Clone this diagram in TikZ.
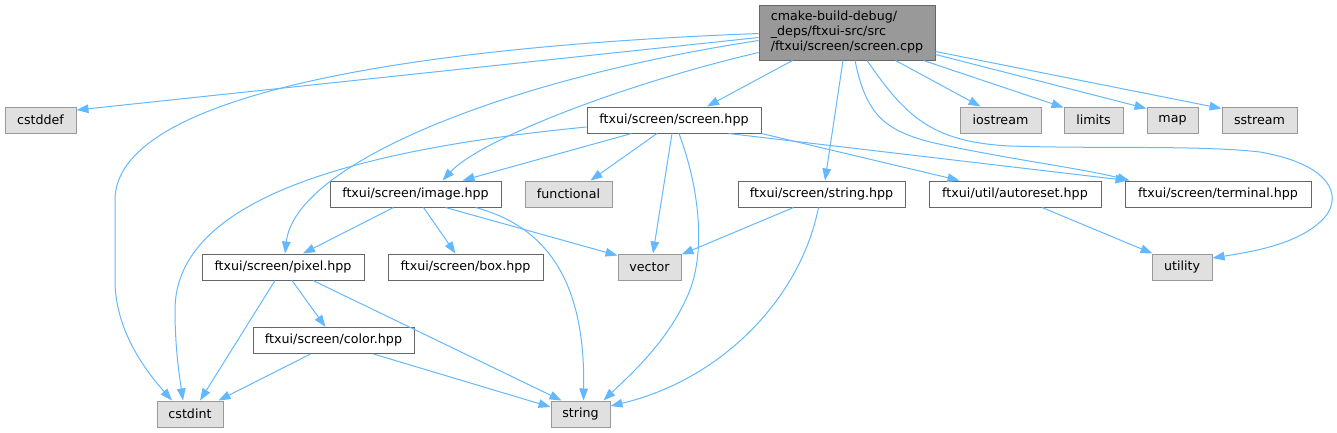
\documentclass[tikz,border=0pt]{standalone}
\usepackage{fontspec}
\setmainfont{DejaVu Sans}
\usetikzlibrary{arrows.meta,calc}
\definecolor{inclblue}{RGB}{99,184,255}
\definecolor{boxgray}{RGB}{224,224,224}
\definecolor{rootgray}{RGB}{153,153,153}
\definecolor{edgegray}{RGB}{102,102,102}
\definecolor{sysedge}{RGB}{153,153,153}
\begin{document}
\begin{tikzpicture}[x=0.75pt,y=-0.75pt,font=\fontsize{9.5}{11.25}\selectfont,
  hfile/.style={draw=edgegray,fill=white,line width=0.75pt,inner sep=0pt,minimum height=19.5pt},
  sysfile/.style={draw=sysedge,fill=boxgray,line width=0.75pt,inner sep=0pt,minimum height=19.5pt},
  srcfile/.style={draw=edgegray,fill=rootgray,line width=0.75pt,inner sep=0pt,align=left,minimum width=132pt,minimum height=41.25pt},
  incl/.style={draw=inclblue,line width=0.75pt,-{Triangle[length=9pt,width=6.5pt]}}]
\useasboundingbox (0,0) rectangle (1337,432);
\node[srcfile] (cpp) at (847,32.5) {cmake-build-debug/\\\_deps/ftxui-src/src\\/ftxui/screen/screen.cpp};
\node[sysfile,minimum width=53.25pt] (cdd) at (40.5,120) {cstddef};
\node[hfile,minimum width=130.5pt] (scr) at (674,120) {ftxui/screen/screen.hpp};
\node[sysfile,minimum width=60.75pt] (ios) at (1000.5,120) {iostream};
\node[sysfile,minimum width=44.25pt] (lim) at (1093.5,120) {limits};
\node[sysfile,minimum width=38.25pt] (map) at (1172.5,120) {map};
\node[sysfile,minimum width=56.25pt] (sst) at (1259.5,120) {sstream};
\node[hfile,minimum width=128.25pt] (img) at (415.5,194) {ftxui/screen/image.hpp};
\node[sysfile,minimum width=65.25pt] (fun) at (568.5,194) {functional};
\node[hfile,minimum width=125.25pt] (shp) at (821.5,194) {ftxui/screen/string.hpp};
\node[hfile,minimum width=129pt] (aut) at (1015,194) {ftxui/util/autoreset.hpp};
\node[hfile,minimum width=139.5pt] (ter) at (1218,194) {ftxui/screen/terminal.hpp};
\node[hfile,minimum width=121.5pt] (pix) at (283,267) {ftxui/screen/pixel.hpp};
\node[hfile,minimum width=116.25pt] (box) at (465.5,267) {ftxui/screen/box.hpp};
\node[sysfile,minimum width=47.25pt] (vec) at (649.5,267) {vector};
\node[sysfile,minimum width=45pt] (uti) at (1182,267) {utility};
\node[hfile,minimum width=120.75pt] (col) at (333.5,340.5) {ftxui/screen/color.hpp};
\node[sysfile,minimum width=49.5pt] (cdi) at (190,414) {cstdint};
\node[sysfile,minimum width=44.25pt] (sti) at (580.5,414) {string};
\draw[incl] ($(cpp.west)+(0,5)$) -- ($(cdd.east)+(0,-10)$);
\draw[incl] ($(cpp.west)+(0,1)$) .. controls (380,48) and (115,100) .. (115,200) -- (115,280) .. controls (115,330) and (145,370) .. ($(cdi.north)+(-18,0)$);
\draw[incl] ($(cpp.west)+(0,8)$) .. controls (500,80) and (295,165) .. ($(pix.north)+(2,0)$);
\draw[incl] ($(cpp.west)+(0,20)$) .. controls (620,85) and (480,140) .. ($(img.north)+(27,0)$);
\draw[incl] ($(cpp.south west)+(34,0)$) -- ($(scr.north)+(33,0)$);
\draw[incl] ($(cpp.south)+(-4,0)$) -- ($(shp.north)+(3.5,0)$);
\draw[incl] ($(cpp.south)+(8,0)$) .. controls (866,115) and (885,130) .. (930,142) .. controls (1000,158) and (1080,168) .. ($(ter.north west)+(5,0)$);
\draw[incl] ($(cpp.south)+(20,0)$) .. controls (905,115) and (930,142) .. (1010,146) .. controls (1100,149) and (1200,145) .. (1260,152) .. controls (1335,165) and (1345,200) .. (1320,222) .. controls (1295,245) and (1250,252) .. ($(uti.east)+(0,-9)$);
\draw[incl] ($(cpp.south east)+(-40,0)$) -- ($(ios.north)+(-20,0)$);
\draw[incl] ($(cpp.south east)+(-12,0)$) -- ($(lim.north west)+(0,1)$);
\draw[incl] ($(cpp.east)+(0,22)$) -- ($(map.north west)+(0,2)$);
\draw[incl] ($(cpp.east)+(0,19)$) -- ($(sst.north west)+(0,2)$);
\draw[incl] ($(scr.west)+(0,7)$) .. controls (350,150) and (175,200) .. (175,310) .. controls (175,350) and (180,380) .. ($(cdi.north)+(-7,0)$);
\draw[incl] ($(scr.south west)+(45,0)$) -- ($(img.north)+(47,0)$);
\draw[incl] ($(scr.south)+(-17,0)$) -- ($(fun.north)+(22,0)$);
\draw[incl] ($(scr.south)+(-2,0)$) -- ($(vec.north)+(3.5,0)$);
\draw[incl] ($(scr.south)+(5,0)$) .. controls (700,190) and (705,250) .. (690,290) .. controls (670,340) and (630,375) .. ($(sti.north east)+(-7,0)$);
\draw[incl] ($(scr.south east)+(-33,0)$) -- ($(ter.north west)+(3,0)$);
\draw[incl] (scr.south east) -- ($(aut.north west)+(31,0)$);
\draw[incl] ($(img.south)+(-22,0)$) -- ($(pix.north)+(20,0)$);
\draw[incl] ($(img.south)+(8,0)$) -- ($(box.north)+(-10,0)$);
\draw[incl] ($(img.south)+(30,0)$) -- ($(vec.north west)+(0,2)$);
\draw[incl] ($(img.south)+(60,0)$) .. controls (560,230) and (585,300) .. ($(sti.north)+(3,0)$);
\draw[incl] ($(shp.south)+(-28,0)$) -- ($(vec.north east)+(0,1)$);
\draw[incl] ($(shp.south)+(-3,0)$) .. controls (800,300) and (720,380) .. ($(sti.east)+(0,-8)$);
\draw[incl] ($(aut.south)+(27,0)$) -- ($(uti.north west)+(1,0)$);
\draw[incl] ($(pix.south)+(-8,0)$) -- ($(cdi.north)+(10,0)$);
\draw[incl] ($(pix.south)+(9,0)$) -- ($(col.north)+(-8,0)$);
\draw[incl] ($(pix.south)+(30,0)$) -- ($(sti.north west)+(11,0)$);
\draw[incl] ($(col.south)+(-23,0)$) -- ($(cdi.north east)+(-5,0)$);
\draw[incl] ($(col.south)+(40,0)$) -- ($(sti.west)+(0,-7)$);
\end{tikzpicture}
\end{document}
